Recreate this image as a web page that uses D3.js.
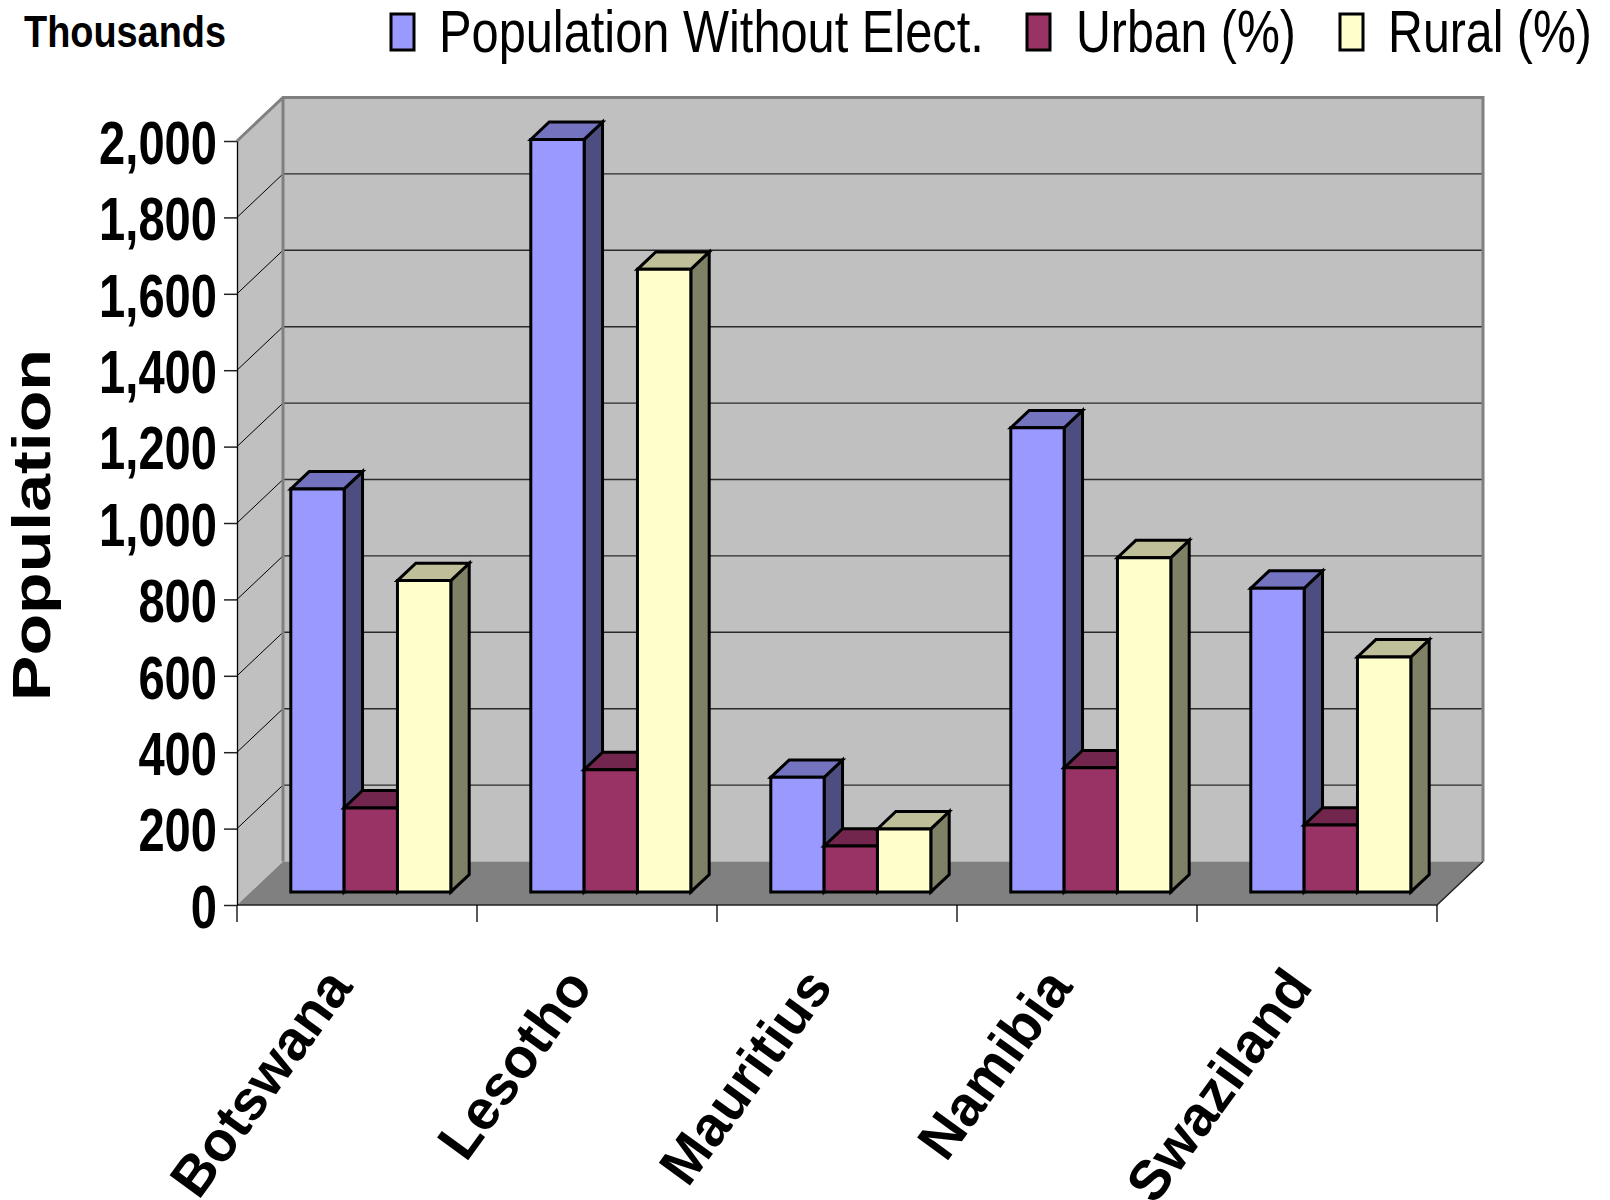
<!DOCTYPE html>
<html>
<head>
<meta charset="utf-8">
<script src="https://cdn.jsdelivr.net/npm/d3@7"></script>
<style>
  html, body { margin: 0; padding: 0; background: #fff; }
  svg { display: block; }
  text { font-family: "Liberation Sans", Arial, sans-serif; fill: #000; }
</style>
</head>
<body>
<svg id="chart" width="1610" height="1200"></svg>
<script>
// Population without electricity (thousands), by country
const countries = ["Botswana", "Lesotho", "Mauritius", "Namibia", "Swaziland"];
const seriesNames = ["Population Without Elect.", "Urban (%)", "Rural (%)"];
const withoutElect = [1055, 1970, 300, 1215, 795];
const urban = [220, 320, 120, 325, 175];
const rural = [815, 1630, 165, 875, 615];
const yTicks = [0, 200, 400, 600, 800, 1000, 1200, 1400, 1600, 1800, 2000];

const seriesValues = [withoutElect, urban, rural];
const frontColors = ["#9999FF", "#993366", "#FFFFCC"];

const svg = d3.select("#chart");

// Plot frame (front plane) and oblique depth offset
const plot = { left: 237, right: 1437, top: 141, bottom: 905 };
const DX = 46, DY = 43.5;
const Z0 = 0.3, Z1 = 0.7;   // bar depth span within the floor

const x0 = d3.scaleBand().domain(countries).range([plot.left, plot.right]);
const groupW = x0.bandwidth() * 3 / 4.5;   // 150% gap width
const x1 = d3.scaleBand().domain(seriesNames).range([0, groupW]);
const y = d3.scaleLinear().domain([0, 2000]).range([plot.bottom, plot.top]);

const shade = (c, k) => { const r = d3.rgb(c); return d3.rgb(r.r * k, r.g * k, r.b * k).formatHex(); };
const pt = (px, py, z) => [px + z * DX, py - z * DY];
const poly = pts => "M" + pts.map(p => p.join(",")).join("L") + "Z";

// Squeeze a text horizontally to a given width (condensed look)
function fitWidth(sel, width) {
  const len = sel.node().getComputedTextLength();
  const tf = sel.attr("transform") || "";
  sel.attr("transform", `${tf} scale(${width / len},1)`);
  return sel;
}

// ---- Walls and floor ----
const walls = svg.append("g");
const yTop = y(2000), yBot = y(0);
// side wall
walls.append("path")
  .attr("d", poly([pt(plot.left, yTop, 0), pt(plot.left, yTop, 1), pt(plot.left, yBot, 1), pt(plot.left, yBot, 0)]))
  .attr("fill", "#C0C0C0");
// back wall
walls.append("path")
  .attr("d", poly([pt(plot.left, yTop, 1), pt(plot.right, yTop, 1), pt(plot.right, yBot, 1), pt(plot.left, yBot, 1)]))
  .attr("fill", "#C0C0C0");
// floor
walls.append("path")
  .attr("d", poly([pt(plot.left, yBot, 0), pt(plot.left, yBot, 1), pt(plot.right, yBot, 1), pt(plot.right, yBot, 0)]))
  .attr("fill", "#808080");

// gridlines on back wall and side wall
const inner = yTicks.filter(v => v > 0 && v < 2000);
walls.selectAll("line.gb").data(inner).join("line")
  .attr("x1", v => pt(plot.left, y(v), 1)[0]).attr("y1", v => pt(plot.left, y(v), 1)[1])
  .attr("x2", v => pt(plot.right, y(v), 1)[0]).attr("y2", v => pt(plot.right, y(v), 1)[1])
  .attr("stroke", "#2a2a2a").attr("stroke-width", 1.4);
walls.selectAll("line.gs").data(inner).join("line")
  .attr("x1", v => pt(plot.left, y(v), 0)[0]).attr("y1", v => pt(plot.left, y(v), 0)[1])
  .attr("x2", v => pt(plot.left, y(v), 1)[0]).attr("y2", v => pt(plot.left, y(v), 1)[1])
  .attr("stroke", "#000").attr("stroke-width", 1);

// wall borders
walls.append("path")
  .attr("d", "M" + [pt(plot.left, yTop, 0), pt(plot.left, yTop, 1), pt(plot.right, yTop, 1), pt(plot.right, yBot, 1)].map(p => p.join(",")).join("L"))
  .attr("fill", "none").attr("stroke", "#808080").attr("stroke-width", 3);
walls.append("line")
  .attr("x1", pt(plot.left, yTop, 1)[0]).attr("y1", pt(plot.left, yTop, 1)[1])
  .attr("x2", pt(plot.left, yBot, 1)[0]).attr("y2", pt(plot.left, yBot, 1)[1])
  .attr("stroke", "#808080").attr("stroke-width", 3);
// floor front and right edges
walls.append("path")
  .attr("d", "M" + [pt(plot.left, yBot, 0), pt(plot.right, yBot, 0), pt(plot.right, yBot, 1)].map(p => p.join(",")).join("L"))
  .attr("fill", "none").attr("stroke", "#222").attr("stroke-width", 1.4);

// category ticks at band edges
const edges = countries.map(c => x0(c)).concat([plot.right]);
walls.selectAll("line.ct").data(edges).join("line")
  .attr("x1", d => d).attr("x2", d => d)
  .attr("y1", yBot).attr("y2", yBot + 17)
  .attr("stroke", "#000").attr("stroke-width", 1.3);

// ---- Value axis ----
const yAxis = svg.append("g")
  .attr("transform", `translate(${plot.left},0)`)
  .call(d3.axisLeft(y).tickValues(yTicks).tickFormat(d3.format(",")).tickSize(13).tickSizeOuter(0).tickPadding(7));
yAxis.select(".domain").attr("stroke", "#000").attr("stroke-width", 1.3);
yAxis.selectAll(".tick line").attr("stroke", "#222").attr("stroke-width", 1.5);
const sx = 0.76;
yAxis.selectAll(".tick text")
  .attr("font-family", "'Liberation Sans', Arial, sans-serif")
  .attr("font-weight", "bold")
  .attr("font-size", 62)
  .attr("fill", "#000")
  .attr("x", -20 / sx)
  .attr("dy", "0.36em")
  .attr("transform", `scale(${sx},1)`);

// ---- Bars ----
const bars = svg.append("g");
countries.forEach((c, ci) => {
  seriesNames.forEach((s, si) => {
    const v = seriesValues[si][ci];
    const L = x0(c) + (x0.bandwidth() - groupW) / 2 + x1(s);
    const R = L + x1.bandwidth();
    const T = y(v), B = y(0);
    const col = frontColors[si];
    const g = bars.append("g")
      .attr("stroke", "#000").attr("stroke-width", 3).attr("stroke-linejoin", "miter");
    g.append("path").attr("fill", shade(col, 0.5))
      .attr("d", poly([pt(R, T, Z0), pt(R, T, Z1), pt(R, B, Z1), pt(R, B, Z0)]));
    g.append("path").attr("fill", shade(col, 0.75))
      .attr("d", poly([pt(L, T, Z0), pt(R, T, Z0), pt(R, T, Z1), pt(L, T, Z1)]));
    g.append("path").attr("fill", col)
      .attr("d", poly([pt(L, T, Z0), pt(R, T, Z0), pt(R, B, Z0), pt(L, B, Z0)]));
  });
});

// ---- Category labels ----
svg.append("g").selectAll("text").data(countries).join("text")
  .attr("transform", c => `translate(${x0(c) + x0.bandwidth() / 2 - 3},987) rotate(-54)`)
  .attr("text-anchor", "end")
  .attr("font-weight", "bold")
  .attr("font-size", 56)
  .text(c => c);

// ---- Axis title ----
fitWidth(svg.append("text")
  .attr("transform", "translate(50,525) rotate(-90)")
  .attr("text-anchor", "middle")
  .attr("font-weight", "bold")
  .attr("font-size", 54)
  .text("Population"), 352);

// ---- Units note ----
fitWidth(svg.append("text")
  .attr("transform", "translate(24,47)")
  .attr("font-weight", "bold")
  .attr("font-size", 44)
  .text("Thousands"), 202);

// ---- Legend ----
const legendItems = [
  { sw: 391, tx: 439, w: 545 },
  { sw: 1027, tx: 1076, w: 220 },
  { sw: 1340, tx: 1388, w: 204 }
];
const legend = svg.append("g");
seriesNames.forEach((s, i) => {
  const it = legendItems[i];
  legend.append("rect")
    .attr("x", it.sw).attr("y", 14).attr("width", 23).attr("height", 36)
    .attr("fill", frontColors[i]).attr("stroke", "#000").attr("stroke-width", 3);
  fitWidth(legend.append("text")
    .attr("transform", `translate(${it.tx},52)`)
    .attr("font-size", 60)
    .text(s), it.w);
});
</script>
</body>
</html>
